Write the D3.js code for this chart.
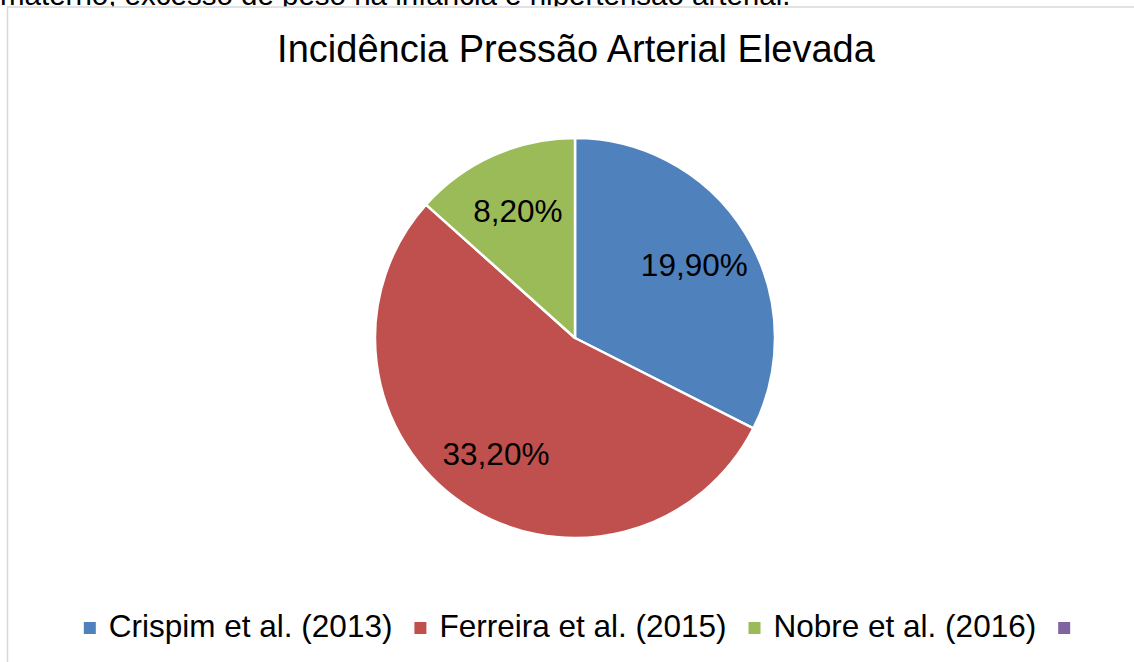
<!DOCTYPE html>
<html>
<head>
<meta charset="utf-8">
<script src="https://cdn.jsdelivr.net/npm/d3@7"></script>
<style>
  html, body { margin: 0; padding: 0; background: #fff; overflow: hidden; }
  svg { display: block; font-family: "Liberation Sans", Arial, sans-serif; }
</style>
</head>
<body>
<svg width="1134" height="662"></svg>
<script>
const svg = d3.select('svg');

const width = +svg.attr('width');
const height = +svg.attr('height');

// data
const studies = ['Crispim et al. (2013)', 'Ferreira et al. (2015)', 'Nobre et al. (2016)', ''];
const incidence = [19.9, 33.2, 8.2, null];
const labels = ['19,90%', '33,20%', '8,20%', ''];
const chartTitle = 'Incidência Pressão Arterial Elevada';
const pageText = 'materno, excesso de peso na infância e hipertensão arterial.';

const colorScale = d3.scaleOrdinal()
    .domain(studies)
    .range(['#4f81bd', '#c0504d', '#9bbb59', '#8064a2']);

// text of the page above the chart (cut off, as in the source)
svg.append('text')
    .attr('x', 0)
    .attr('y', 4.5)
    .attr('font-size', 29.5)
    .attr('fill', '#000')
    .text(pageText);

// chart frame
svg.append('rect')
    .attr('x', 7.5)
    .attr('y', 7)
    .attr('width', width + 20)
    .attr('height', height + 20)
    .attr('fill', '#fff')
    .attr('stroke', '#d9d9d9')
    .attr('stroke-width', 1.5);

svg.append('text')
    .attr('x', 576)
    .attr('y', 62)
    .attr('text-anchor', 'middle')
    .attr('font-size', 38)
    .attr('fill', '#000')
    .text(chartTitle);

// pie
const cx = 575, cy = 338, radius = 200;

const pie = d3.pie()
    .sort(null)
    .value(d => d.value || 0);

const rows = studies.map((name, i) => ({ name, value: incidence[i], label: labels[i] }));
const arcs = pie(rows).filter(d => d.data.value);

const arc = d3.arc().innerRadius(0).outerRadius(radius);
const labelArc = d3.arc().innerRadius(radius * 0.7).outerRadius(radius * 0.7);

const g = svg.append('g').attr('transform', `translate(${cx},${cy})`);

g.selectAll('path').data(arcs)
  .enter().append('path')
    .attr('d', arc)
    .attr('fill', d => colorScale(d.data.name))
    .attr('stroke', '#fff')
    .attr('stroke-width', 2.5)
    .attr('stroke-linejoin', 'round');

g.selectAll('text.label').data(arcs)
  .enter().append('text')
    .attr('class', 'label')
    .attr('transform', d => `translate(${labelArc.centroid(d)})`)
    .attr('dy', '0.36em')
    .attr('text-anchor', 'middle')
    .attr('font-size', 31.5)
    .attr('fill', '#000')
    .text(d => d.data.label);

// legend
const legend = svg.append('g');
const sq = 12, gapText = 13, gapItem = 22;
let x = 0;
studies.forEach(name => {
    const item = legend.append('g').attr('transform', `translate(${x},0)`);
    item.append('rect')
        .attr('x', 0)
        .attr('y', -15)
        .attr('width', sq)
        .attr('height', sq)
        .attr('fill', colorScale(name));
    x += sq;
    if (name) {
        const t = item.append('text')
            .attr('x', sq + gapText)
            .attr('y', 0)
            .attr('font-size', 31.5)
            .attr('fill', '#000')
            .text(name);
        x += gapText + t.node().getComputedTextLength();
    }
    x += gapItem;
});
const legendWidth = x - gapItem;
legend.attr('transform', `translate(${577 - legendWidth / 2},637)`);
</script>
</body>
</html>
